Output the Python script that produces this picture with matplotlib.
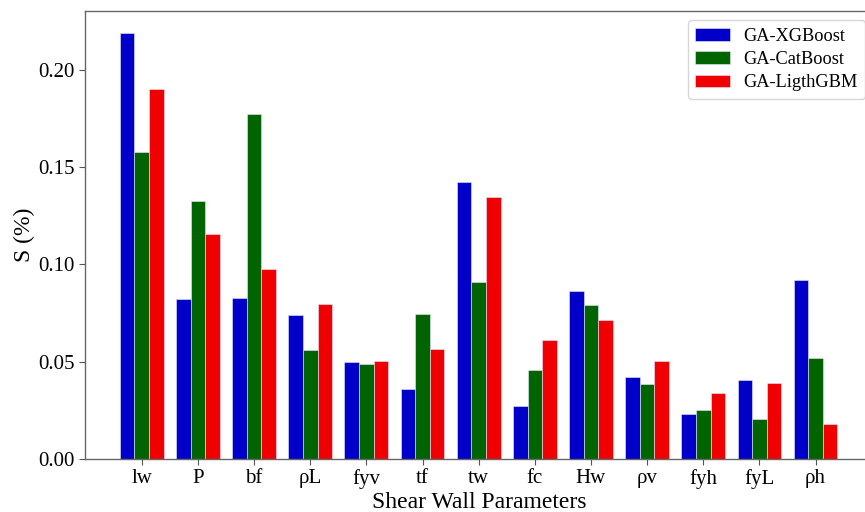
import numpy as np
import matplotlib
matplotlib.use("Agg")
import matplotlib.pyplot as plt

plt.rcParams["font.family"] = ["Liberation Serif", "DejaVu Serif"]

PARAMS = ["lw", "P", "bf", "ρL", "fyv", "tf", "tw", "fc", "Hw", "ρv", "fyh", "fyL", "ρh"]

XGBOOST = [0.219, 0.0824, 0.0828, 0.0742, 0.0500, 0.0362, 0.1426, 0.0274,
           0.0864, 0.0423, 0.0231, 0.0406, 0.0922]
CATBOOST = [0.158, 0.1327, 0.1772, 0.0559, 0.0490, 0.0744, 0.0908, 0.0456,
            0.0793, 0.0387, 0.0252, 0.0204, 0.0518]
LIGHTGBM = [0.190, 0.1158, 0.0975, 0.0799, 0.0506, 0.0566, 0.1349, 0.0614,
            0.0713, 0.0502, 0.0339, 0.0392, 0.0181]

SERIES = [
    ("GA-XGBoost", XGBOOST, "#0000c8"),
    ("GA-CatBoost", CATBOOST, "#006400"),
    ("GA-LigthGBM", LIGHTGBM, "#f00000"),
]


def main():
    fig = plt.figure(figsize=(8.65, 5.12), dpi=100)
    # axes runs a little past the right edge: the source image is cropped there
    ax = fig.add_axes([0.0983, 0.1035, 0.9121, 0.875])

    x = np.arange(len(PARAMS))
    width = 0.26
    for i, (label, values, color) in enumerate(SERIES):
        ax.bar(x + (i - 1) * width, values, width, color=color, label=label,
               edgecolor="#e8e8ff", linewidth=0.4)

    ax.set_xlim(-1.01, 13.04)
    ax.set_ylim(0, 0.2303)
    ax.set_xticks(x)
    ax.set_xticklabels(PARAMS, fontsize=15)
    ax.set_yticks([0, 0.05, 0.10, 0.15, 0.20])
    ax.set_yticklabels(["0.00", "0.05", "0.10", "0.15", "0.20"], fontsize=15)
    ax.tick_params(direction="out", length=4, color="#555555")
    ax.set_xlabel("Shear Wall Parameters", fontsize=17, labelpad=2)
    ax.set_ylabel("S (%)", fontsize=17, labelpad=2)

    for spine in ax.spines.values():
        spine.set_color("#666666")
        spine.set_linewidth(1.0)
    ax.spines["right"].set_visible(False)

    ax.legend(loc="upper right", fontsize=13.2, frameon=True, fancybox=True,
              edgecolor="#cccccc", handlelength=1.9, handletextpad=0.7,
              borderaxespad=0.5, labelspacing=0.35)

    fig.savefig("out.png", dpi=100)


if __name__ == "__main__":
    main()
